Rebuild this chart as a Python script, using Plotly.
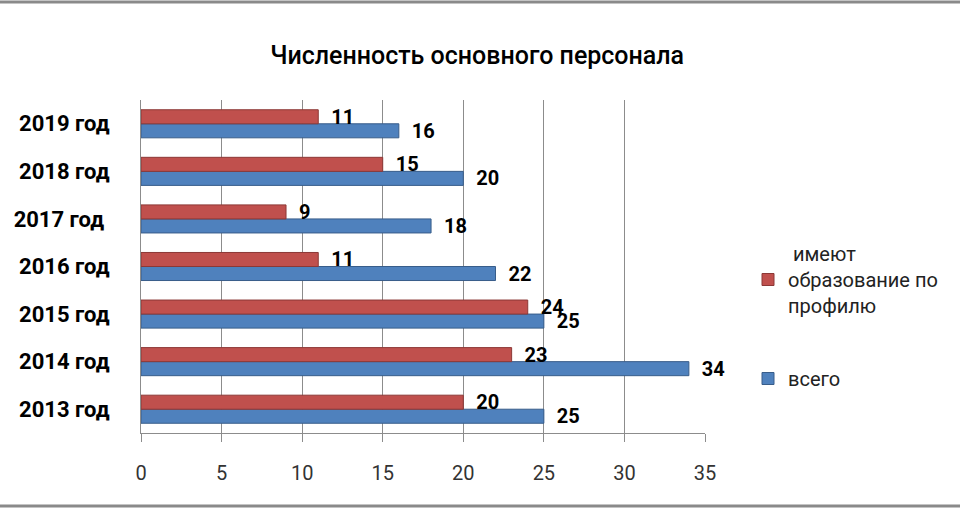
"""
Численность основного персонала — горизонтальная гистограмма
"""
import plotly.graph_objects as go

# --- данные ---
годы = ["2013 год", "2014 год", "2015 год", "2016 год", "2017 год\u00a0", "2018 год", "2019 год"]
всего = [25, 34, 25, 22, 18, 20, 16]
по_профилю = [20, 23, 24, 11, 9, 15, 11]

ось_x_метки = [0, 5, 10, 15, 20, 25, 30, 35]

ШРИФТ = "Roboto"
СИНИЙ = "#4F81BD"
КРАСНЫЙ = "#C0504D"

# поля графика (пиксели)
L, R, T, B = 141, 255, 100, 77
W, H = 960, 510
pw, ph = W - L - R, H - T - B

подпись = dict(family=ШРИФТ, size=20, color="black", weight="bold")

fig = go.Figure()
fig.add_trace(go.Bar(
    y=годы, x=всего, orientation="h", name="всего",
    legendgroup="a", legendrank=2,
    marker=dict(color=СИНИЙ, line=dict(color="#385D8A", width=1)),
    text=всего, texttemplate="\u00a0\u00a0%{x}", textposition="outside",
    cliponaxis=False, constraintext="none", textfont=подпись,
))
fig.add_trace(go.Bar(
    y=годы, x=по_профилю, orientation="h",
    name=" имеют<br>образование по<br>профилю",
    legendgroup="b", legendrank=1,
    marker=dict(color=КРАСНЫЙ, line=dict(color="#8C3836", width=1)),
    text=по_профилю, texttemplate="\u00a0\u00a0%{x}", textposition="outside",
    cliponaxis=False, constraintext="none", textfont=подпись,
))

# рамка сверху и снизу
def px_to_paper_y(py):
    return (H - B - py) / ph

for py in (2, 506):
    fig.add_shape(type="line", xref="paper", yref="paper",
                  x0=-L / pw, x1=(W - L) / pw,
                  y0=px_to_paper_y(py), y1=px_to_paper_y(py),
                  line=dict(color="#8a8a8a", width=3))

fig.update_layout(
    width=W, height=H,
    margin=dict(l=L, r=R, t=T, b=B, autoexpand=False),
    paper_bgcolor="white", plot_bgcolor="white",
    barmode="group", bargap=0.41, bargroupgap=0,
    title=dict(text="Численность основного персонала", x=0.497, xanchor="center",
               y=1 - 55 / H, yanchor="middle",
               font=dict(family=ШРИФТ, size=25, color="black", weight=500)),
    font=dict(family=ШРИФТ, color="black"),
    legend=dict(x=(748 - L) / pw, y=px_to_paper_y(234), xanchor="left", yanchor="top",
                traceorder="grouped", tracegroupgap=44,
                font=dict(family=ШРИФТ, size=20, color="#222"),
                itemwidth=30),
    showlegend=True,
)
fig.update_xaxes(
    range=[0, 35], tickvals=ось_x_метки, automargin=False,
    showgrid=True, gridcolor="#8c8c8c", gridwidth=1,
    showline=True, linecolor="#8c8c8c", linewidth=1,
    ticks="outside", ticklen=8, tickcolor="#8c8c8c",
    ticklabelstandoff=14,
    tickfont=dict(family=ШРИФТ, size=20, color="#333"),
    zeroline=False,
)
fig.update_yaxes(
    showline=True, linecolor="#8c8c8c", linewidth=1, automargin=False,
    ticks="", ticklabelstandoff=26,
    tickfont=dict(family=ШРИФТ, size=22, color="black", weight="bold"),
)

# убрать стандартный отступ страницы, чтобы рисунок встал в окно целиком
fig.write_html("out.html", config={"displayModeBar": False},
               post_script="document.body.style.margin='0';")
